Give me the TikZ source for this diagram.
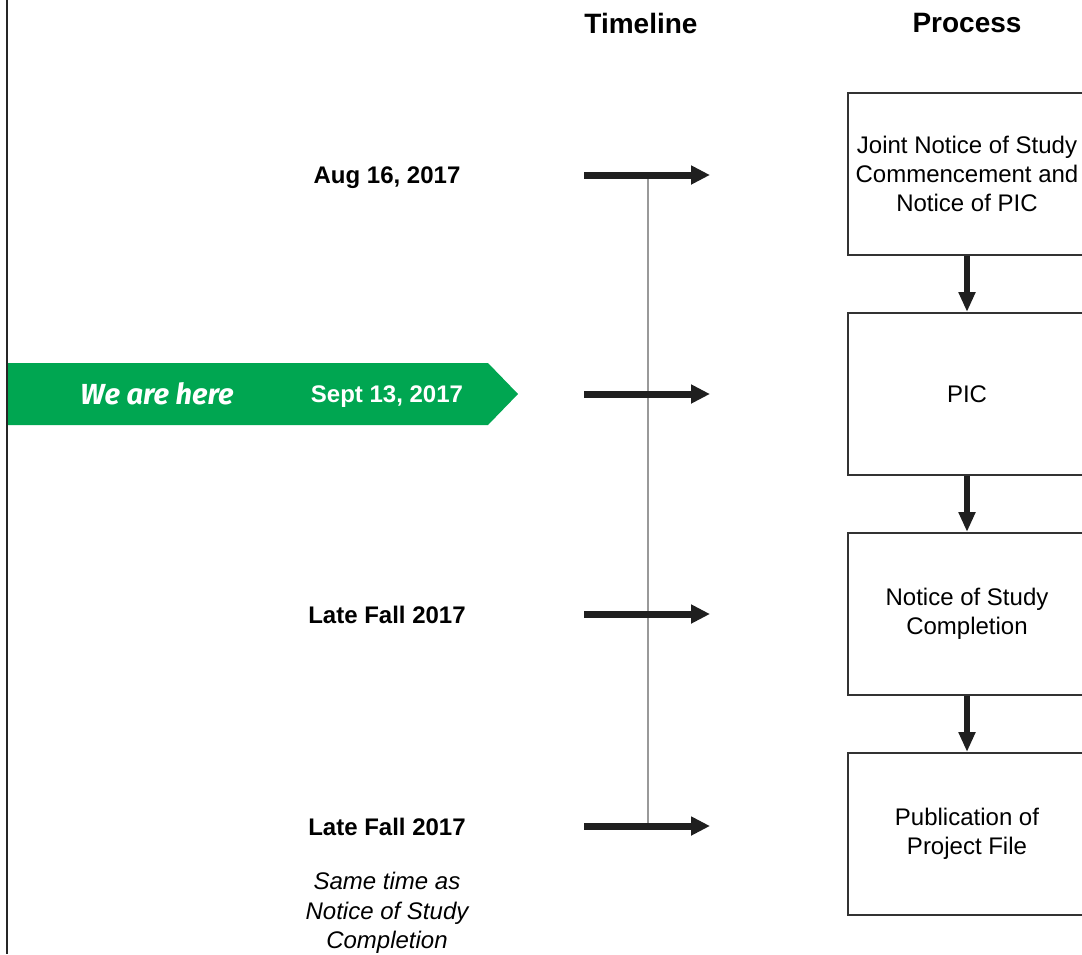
\documentclass[tikz,border=0pt]{standalone}
\usepackage{fontspec}
\setmainfont{Liberation Sans}
\newfontfamily\handfont{Fira Sans}
\usetikzlibrary{arrows.meta,positioning}

\definecolor{heregreen}{RGB}{0,166,81}

\tikzset{
    stage/.style={draw=black!80, line width=1pt, minimum width=119pt,
        minimum height=81pt, align=center, inner sep=0pt,
        font=\fontsize{12}{14.5}\selectfont},
    datelabel/.style={font=\bfseries\fontsize{12}{14}\selectfont},
    heading/.style={font=\bfseries\fontsize{14}{16}\selectfont},
    tick/.style={line width=3.5pt, black!88, -{Triangle[length=9.5pt,width=9pt]}},
    flow/.style={line width=3pt, black!88, -{Triangle[length=10pt,width=8pt]}},
}

\begin{document}
\begin{tikzpicture}[x=0.5pt, y=-0.5pt, node distance=28pt]

    \useasboundingbox (0,0) rectangle (1082,954);

    % left rule
    \draw[line width=1.2pt, black!85] (7,0) -- (7,954);

    % headings
    \node[heading] (timeline) at (641,23) {Timeline};
    \node[heading] (process) at (967,23) {Process};

    % We are here banner
    \fill[heregreen] (8,363) -- (488,363) -- (518,394) -- (488,425) -- (8,425) -- cycle;
    \node[text=white, font=\handfont\itshape\bfseries\fontsize{14.5}{16}\selectfont] (here) at (157,394) {We are here};

    % dates
    \node[datelabel] (aug) at (387,178) {Aug 16, 2017};
    \node[datelabel, text=white] (sept) at (387,397) {Sept 13, 2017};
    \node[datelabel] (fall) at (387,615) {Late Fall 2017};
    \node[datelabel] (fallb) at (387,827) {Late Fall 2017};
    \node[align=center, font=\itshape\fontsize{12}{14.75}\selectfont] (same) at (387,913)
        {Same time as\\Notice of Study\\Completion};

    % timeline
    \coordinate (top) at (648,175);
    \coordinate (bottom) at (648,826);
    \draw[line width=1pt, black!40] (top) -- (bottom);
    \foreach \y/\name in {175/a, 394/b, 614/c, 826/d} {
        \coordinate (\name s) at (584,\y);
        \coordinate (\name e) at (710,\y);
        \draw[tick] (\name s) -- (\name e);
    }

    % process boxes
    \node[stage] (joint) at (967,174) {Joint Notice of Study\\Commencement and\\Notice of PIC};
    \node[stage, below=of joint] (pic) {PIC};
    \node[stage, below=of pic] (completion) {Notice of Study\\Completion};
    \node[stage, below=of completion] (publication) {Publication of\\Project File};

    \draw[flow] (joint) -- (pic);
    \draw[flow] (pic) -- (completion);
    \draw[flow] (completion) -- (publication);

\end{tikzpicture}
\end{document}
